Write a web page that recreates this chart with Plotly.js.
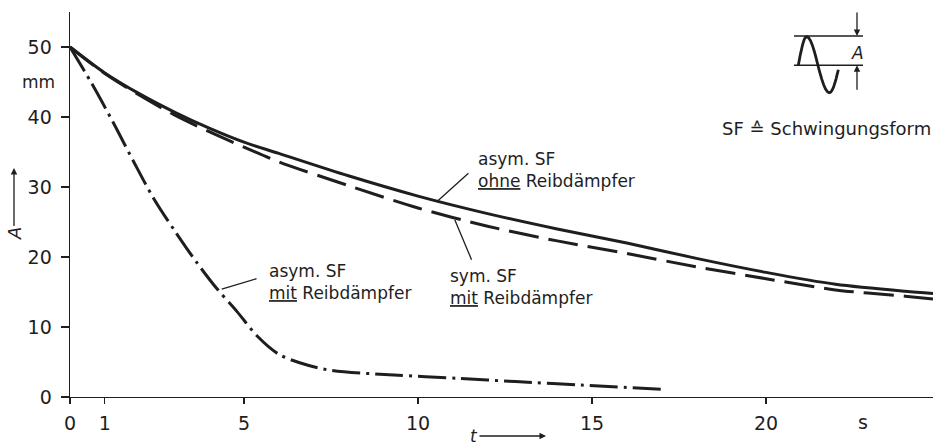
<!DOCTYPE html>
<html>
<head>
<meta charset="utf-8">
<script src="https://cdn.plot.ly/plotly-3.0.1.min.js"></script>
<style>html,body{margin:0;padding:0;background:#fff;}#chart{width:933px;height:448px;}</style>
</head>
<body>
<div id="chart"></div>
<script>
// Data
const tAsymOhne = [0, 1, 2, 3, 4, 5, 6, 8, 10, 12, 14, 16, 18, 20, 22, 24, 24.8];
const aAsymOhne = [50, 46.3, 43.3, 40.7, 38.4, 36.4, 34.8, 31.6, 28.7, 26.2, 24.0, 22.0, 19.8, 17.8, 16.1, 15.1, 14.8];
const tSymMit = [0, 1, 2, 3, 4, 5, 6, 8, 10, 12, 14, 16, 18, 20, 22, 24, 24.8];
const aSymMit = [50, 46.2, 43.1, 40.3, 37.9, 35.7, 33.6, 30.2, 27.0, 24.4, 22.3, 20.5, 18.6, 16.9, 15.3, 14.4, 14.0];
const tAsymMit = [0, 0.6, 1.2, 1.8, 2.4, 3.0, 3.6, 4.2, 4.8, 5.4, 6.0, 6.6, 7.5, 9.3, 11.2, 12.8, 14.7, 17.0];
const aAsymMit = [50, 45, 39.6, 33.9, 28.4, 23.8, 19.5, 15.6, 12.2, 8.6, 6.1, 4.9, 3.8, 3.15, 2.65, 2.2, 1.7, 1.1];

const xTickVals = [0, 1, 5, 10, 15, 20];
const xTickText = ['0', '1', '5', '10', '15', '20'];
const yTickVals = [0, 10, 20, 30, 40, 50];
const yTickText = ['0', '10', '20', '30', '40', '50'];

const FONT = 'DejaVu Sans, Liberation Sans, sans-serif';
const INK = '#1e1e1e';

// page-pixel -> paper helpers (plot area: left 70, right 933, top 12, bottom 397)
const L = 70, R = 933, T = 12, B = 397;
const px = x => (x - L) / (R - L);
const py = y => (B - y) / (B - T);

const traces = [
  {x: tAsymOhne, y: aAsymOhne, mode: 'lines', line: {color: INK, width: 3, shape: 'spline', smoothing: 0.8}, hoverinfo: 'skip'},
  {x: tSymMit, y: aSymMit, mode: 'lines', line: {color: INK, width: 3, dash: '30px,10px', shape: 'spline', smoothing: 0.8}, hoverinfo: 'skip'},
  {x: tAsymMit, y: aAsymMit, mode: 'lines', line: {color: INK, width: 3, dash: '28px,6px,3px,6px', shape: 'spline', smoothing: 0.9}, hoverinfo: 'skip'}
];

// schematic sine icon of the inset (decoration)
const segs = [
  {x0: 798.3, x1: 806.7, y0: 65.5, amp: 28.8, ph0: 0, ph1: 0.5},
  {x0: 806.7, x1: 829.3, y0: 65.5, amp: 28.8, ph0: 0.5, ph1: 1.5},
  {x0: 829.3, x1: 838.3, y0: 65.5, amp: 27.2, ph0: 1.5, ph1: 1.95}
];
let sp = '';
segs.forEach((s, k) => {
  const n = 12;
  for (let i = 0; i <= n; i++) {
    if (k > 0 && i === 0) continue;
    const f = i / n;
    const xx = s.x0 + (s.x1 - s.x0) * f;
    const ph = (s.ph0 + (s.ph1 - s.ph0) * f) * Math.PI;
    const amp = (k === 1 && f > 0.5) ? 27.2 : s.amp;
    const yy = s.y0 - amp * Math.sin(ph);
    sp += (sp === '' ? 'M' : 'L') + px(xx).toFixed(4) + ',' + py(yy).toFixed(4);
  }
});

const shapes = [
  // leader lines
  {type: 'line', xref: 'x', yref: 'y', x0: 10.54, y0: 27.9, x1: 11.45, y1: 31.96, line: {color: INK, width: 1.3}},
  {type: 'line', xref: 'x', yref: 'y', x0: 11.06, y0: 25.3, x1: 11.54, y1: 19.6, line: {color: INK, width: 1.3}},
  {type: 'line', xref: 'x', yref: 'y', x0: 4.36, y0: 15.4, x1: 5.36, y1: 16.9, line: {color: INK, width: 1.3}},
  // inset
  {type: 'line', xref: 'paper', yref: 'paper', x0: px(794), y0: py(36), x1: px(863), y1: py(36), line: {color: INK, width: 1.5}},
  {type: 'line', xref: 'paper', yref: 'paper', x0: px(794), y0: py(65.3), x1: px(863), y1: py(65.3), line: {color: INK, width: 1.5}},
  {type: 'path', xref: 'paper', yref: 'paper', path: sp, line: {color: INK, width: 2.8}}
];

const F17 = {family: FONT, size: 17, color: INK};
const annotations = [
  {xref: 'x', yref: 'y', x: 11.67, y: 32.4, xanchor: 'left', yanchor: 'middle', align: 'left', showarrow: false,
   text: 'asym. SF<br><u>ohne</u> Reibdämpfer', font: F17},
  {xref: 'x', yref: 'y', x: 10.86, y: 15.7, xanchor: 'left', yanchor: 'middle', align: 'left', showarrow: false,
   text: 'sym. SF<br><u>mit</u> Reibdämpfer', font: F17},
  {xref: 'x', yref: 'y', x: 5.65, y: 16.5, xanchor: 'left', yanchor: 'middle', align: 'left', showarrow: false,
   text: 'asym. SF<br><u>mit</u> Reibdämpfer', font: F17},
  {xref: 'paper', yref: 'paper', x: 1, y: py(128), xanchor: 'right', yanchor: 'middle', showarrow: false,
   text: 'SF ≙ Schwingungsform', font: {family: FONT, size: 18, color: INK}},
  {xref: 'paper', yref: 'paper', x: px(857), y: py(53), xanchor: 'center', yanchor: 'middle', showarrow: false,
   text: '<i>A</i>', font: F17},
  // inset arrows
  {xref: 'paper', yref: 'paper', x: px(857), y: py(36), ax: 0, ay: -25, showarrow: true, arrowhead: 2, arrowsize: 1, arrowwidth: 1.3, arrowcolor: INK, text: ''},
  {xref: 'paper', yref: 'paper', x: px(857), y: py(65.3), ax: 0, ay: 26, showarrow: true, arrowhead: 2, arrowsize: 1, arrowwidth: 1.3, arrowcolor: INK, text: ''},
  // units
  {xref: 'paper', yref: 'y', x: px(38), y: 45, xanchor: 'center', yanchor: 'middle', showarrow: false,
   text: 'mm', font: F17},
  {xref: 'x', yref: 'paper', x: 22.8, y: py(422), xanchor: 'center', yanchor: 'middle', showarrow: false,
   text: 's', font: {family: FONT, size: 19, color: INK}},
  // axis titles with arrows
  {xref: 'paper', yref: 'paper', x: px(14), y: py(168), ax: 0, ay: 66, showarrow: true, arrowhead: 2, arrowsize: 1, arrowwidth: 1.3, arrowcolor: INK,
   text: '<i>A</i>', textangle: -90, font: {family: FONT, size: 18, color: INK}},
  {xref: 'paper', yref: 'paper', x: px(546), y: py(436), ax: -72, ay: 0, showarrow: true, arrowhead: 2, arrowsize: 1, arrowwidth: 1.3, arrowcolor: INK,
   text: '<i>t</i>', font: {family: FONT, size: 17, color: INK}}
];

const layout = {
  width: 933, height: 448,
  margin: {l: 70, r: 0, t: 12, b: 51},
  paper_bgcolor: '#fff', plot_bgcolor: '#fff',
  showlegend: false,
  font: {family: FONT, color: INK, size: 17},
  xaxis: {range: [0, 24.8], tickmode: 'array', tickvals: xTickVals, ticktext: xTickText,
          ticks: 'outside', ticklen: 6, tickwidth: 1.3, tickcolor: INK, ticklabelstandoff: 3,
          showline: true, linecolor: INK, linewidth: 1.4, showgrid: false, zeroline: false,
          tickfont: {family: FONT, size: 19, color: INK}},
  yaxis: {range: [0, 55], tickmode: 'array', tickvals: yTickVals, ticktext: yTickText,
          ticks: 'outside', ticklen: 8, tickwidth: 1.3, tickcolor: INK, ticklabelstandoff: 5,
          showline: true, linecolor: INK, linewidth: 1.4, showgrid: false, zeroline: false,
          tickfont: {family: FONT, size: 19, color: INK}},
  shapes: shapes,
  annotations: annotations
};

Plotly.newPlot('chart', traces, layout, {displayModeBar: false, staticPlot: true});
</script>
</body>
</html>
